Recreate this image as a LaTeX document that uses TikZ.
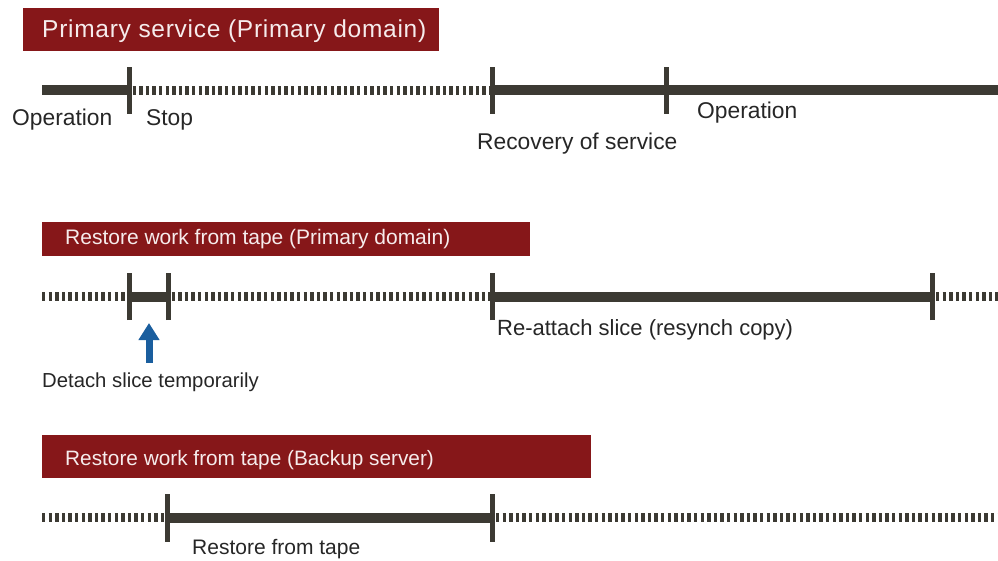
\documentclass[tikz,border=0pt]{standalone}
\usepackage{fontspec}
\setmainfont{Liberation Sans}
\newfontfamily\wideA[LetterSpace=3]{Liberation Sans}
\usetikzlibrary{arrows.meta}
\definecolor{hdr}{HTML}{861719}
\definecolor{bar}{HTML}{3C3A33}
\definecolor{arr}{HTML}{1A5E9E}
\definecolor{txt}{HTML}{262626}
\definecolor{ttxt}{HTML}{F6ECEC}
\begin{document}
\begin{tikzpicture}[x=1pt,y=-1pt,
  titlebox/.style={fill=hdr,draw=none,anchor=north west,inner sep=0},
  titletext/.style={text=ttxt,anchor=base west,inner sep=0},
  lbl/.style={text=txt,anchor=base west,inner sep=0},
  solidseg/.style={draw=bar,line width=10pt},
  dotseg/.style={draw=bar,line width=8.5pt,dash pattern=on 3.4pt off 3.2pt},
  tickmark/.style={draw=bar,line width=5pt},
  upar/.style={draw=arr,line width=7pt,-{Triangle[length=17pt,width=20pt]}}]
\useasboundingbox (0,0) rectangle (998,561);
% ---------- Section 1 ----------
\node[titlebox,minimum width=416pt,minimum height=43pt] (t1) at (23,7.5) {};
\node[titletext,font=\wideA\fontsize{24.5}{28}\selectfont] (t1x) at (42,38) {Primary service (Primary domain)};
\coordinate (a0) at (42,90.5);
\coordinate (a1) at (129,90.5);
\coordinate (a2) at (492.5,90.5);
\coordinate (a3) at (666,90.5);
\coordinate (a4) at (998,90.5);
\draw[solidseg] (a0) -- (a1);
\draw[dotseg] ([xshift=3.5pt]a1) -- ([xshift=-2.5pt]a2);
\draw[solidseg] (a2) -- (a4);
\foreach \c in {a1,a2,a3} \draw[tickmark] ([yshift=-23.5pt]\c) -- ([yshift=23.5pt]\c);
\node[lbl,font=\fontsize{22.8}{27}\selectfont] (l1) at (12,126) {Operation};
\node[lbl,font=\fontsize{22.8}{27}\selectfont] (l2) at (146,126) {Stop};
\node[lbl,font=\fontsize{22.8}{27}\selectfont] (l3) at (477,150) {Recovery of service};
\node[lbl,font=\fontsize{22.8}{27}\selectfont] (l4) at (697,119) {Operation};
% ---------- Section 2 ----------
\node[titlebox,minimum width=488pt,minimum height=34pt] (t2) at (42,222) {};
\node[titletext,font=\fontsize{21}{25}\selectfont] (t2x) at (65,245) {Restore work from tape (Primary domain)};
\coordinate (b0) at (42,296.5);
\coordinate (b1) at (129,296.5);
\coordinate (b2) at (168,296.5);
\coordinate (b3) at (492.5,296.5);
\coordinate (b4) at (932.5,296.5);
\coordinate (b5) at (998,296.5);
\draw[dotseg] (b0) -- ([xshift=-2.5pt]b1);
\draw[solidseg] (b1) -- (b2);
\draw[dotseg] ([xshift=3.5pt]b2) -- ([xshift=-2.5pt]b3);
\draw[solidseg] (b3) -- (b4);
\draw[dotseg] ([xshift=3.5pt]b4) -- (b5);
\foreach \c in {b1,b2,b3,b4} \draw[tickmark] ([yshift=-23.5pt]\c) -- ([yshift=23.5pt]\c);
\coordinate (p0) at (149,362.5);
\coordinate (p1) at (149,323);
\draw[upar] (p0) -- (p1);
\node[lbl,font=\fontsize{20.3}{24}\selectfont] (l5) at (42,387) {Detach slice temporarily};
\node[lbl,font=\fontsize{22}{26}\selectfont] (l6) at (497,335) {Re-attach slice (resynch copy)};
% ---------- Section 3 ----------
\node[titlebox,minimum width=549pt,minimum height=43pt] (t3) at (42,434.5) {};
\node[titletext,font=\fontsize{20.8}{25}\selectfont] (t3x) at (65,465) {Restore work from tape (Backup server)};
\coordinate (c0) at (42,517.5);
\coordinate (c1) at (167.5,517.5);
\coordinate (c2) at (492.5,517.5);
\coordinate (c3) at (998,517.5);
\draw[dotseg] (c0) -- ([xshift=-2.5pt]c1);
\draw[solidseg] (c1) -- (c2);
\draw[dotseg] ([xshift=3.5pt]c2) -- (c3);
\foreach \c in {c1,c2} \draw[tickmark] ([yshift=-24pt]\c) -- ([yshift=24pt]\c);
\node[lbl,font=\fontsize{21}{25}\selectfont] (l7) at (192,554) {Restore from tape};
\end{tikzpicture}
\end{document}
